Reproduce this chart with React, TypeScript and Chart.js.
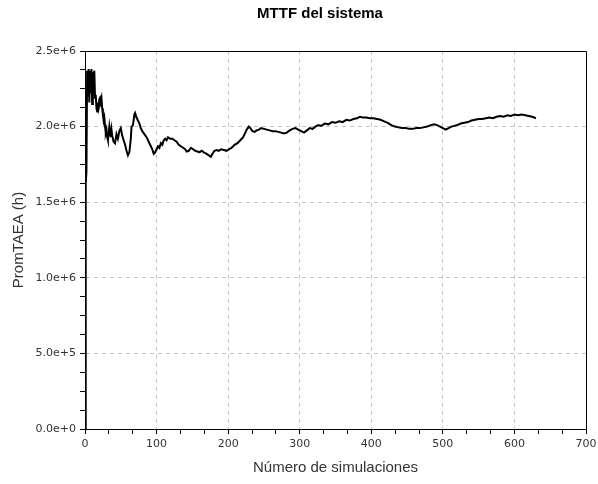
import React, { useEffect, useRef } from "react";
import { Chart, registerables } from "chart.js";

Chart.register(...registerables);

const chartTitle = "MTTF del sistema";
const xAxisTitle = "Número de simulaciones";
const yAxisTitle = "PromTAEA (h)";

const xTickLabels = ["0", "100", "200", "300", "400", "500", "600", "700"];
const yTickLabels = ["0.0e+0", "5.0e+5", "1.0e+6", "1.5e+6", "2.0e+6", "2.5e+6"];

const simulations = [
  0, 1, 2, 3, 4, 5, 6, 7, 8, 9, 10, 11, 12, 13, 14, 15, 16, 17, 18, 19,
  20, 21, 22, 23, 24, 25, 26, 27, 28, 29, 30, 31, 32, 33, 34, 35, 36, 37, 38, 40,
  42, 44, 46, 48, 50, 52, 54, 56, 58, 60, 62, 64, 65, 67, 69, 70, 72, 74, 76, 78,
  80, 83, 86, 89, 92, 94, 96, 98, 100, 102, 104, 106, 108, 110, 112, 114, 116, 119, 122, 125,
  128, 131, 134, 137, 140, 142, 145, 148, 151, 154, 157, 160, 163, 166, 170, 173, 176, 178, 181, 184,
  187, 190, 194, 198, 201, 205, 209, 213, 217, 221, 224, 226, 229, 231, 234, 237, 240, 243, 246, 250,
  254, 258, 262, 266, 270, 274, 278, 282, 286, 290, 294, 298, 302, 306, 310, 314, 318, 322, 326, 330,
  335, 340, 345, 350, 355, 360, 365, 370, 375, 380, 384, 388, 393, 398, 403, 408, 413, 418, 423, 428,
  433, 438, 443, 448, 453, 458, 463, 468, 473, 478, 483, 488, 492, 496, 500, 504, 508, 512, 516, 520,
  525, 530, 535, 540, 545, 550, 555, 560, 565, 570, 575, 580, 585, 590, 595, 600, 605, 610, 615, 620,
  625, 630,
];

const promTAEA = [
  0, 1.62e6, 1.70e6, 2.37e6, 2.20e6, 2.38e6, 2.16e6, 2.37e6, 2.22e6, 2.38e6, 2.15e6, 2.36e6, 2.25e6, 2.37e6, 2.19e6, 2.21e6, 2.12e6, 2.10e6, 2.16e6, 2.13e6,
  2.18e6, 2.19e6, 2.17e6, 2.19e6, 2.12e6, 2.08e6, 2.04e6, 2.06e6, 2.00e6, 1.96e6, 1.98e6, 1.93e6, 1.91e6, 1.95e6, 2.00e6, 1.96e6, 1.93e6, 1.98e6, 1.94e6, 1.90e6,
  1.89e6, 1.95e6, 1.92e6, 1.97e6, 1.99e6, 1.94e6, 1.91e6, 1.88e6, 1.84e6, 1.81e6, 1.83e6, 1.92e6, 2.00e6, 2.01e6, 2.08e6, 2.09e6, 2.06e6, 2.04e6, 2.02e6, 1.99e6,
  1.97e6, 1.95e6, 1.93e6, 1.90e6, 1.87e6, 1.85e6, 1.82e6, 1.83e6, 1.85e6, 1.87e6, 1.86e6, 1.89e6, 1.88e6, 1.91e6, 1.92e6, 1.91e6, 1.93e6, 1.92e6, 1.92e6, 1.91e6,
  1.90e6, 1.88e6, 1.87e6, 1.86e6, 1.85e6, 1.835e6, 1.84e6, 1.86e6, 1.85e6, 1.84e6, 1.835e6, 1.83e6, 1.84e6, 1.83e6, 1.82e6, 1.81e6, 1.80e6, 1.82e6, 1.84e6, 1.845e6,
  1.84e6, 1.85e6, 1.845e6, 1.84e6, 1.85e6, 1.86e6, 1.88e6, 1.89e6, 1.91e6, 1.93e6, 1.96e6, 1.98e6, 2.00e6, 1.99e6, 1.97e6, 1.965e6, 1.975e6, 1.98e6, 1.99e6, 1.985e6,
  1.98e6, 1.975e6, 1.97e6, 1.97e6, 1.965e6, 1.96e6, 1.955e6, 1.96e6, 1.975e6, 1.985e6, 1.99e6, 1.98e6, 1.97e6, 1.96e6, 1.975e6, 1.99e6, 1.985e6, 2.00e6, 2.01e6, 2.005e6,
  2.02e6, 2.015e6, 2.03e6, 2.025e6, 2.035e6, 2.03e6, 2.045e6, 2.04e6, 2.05e6, 2.055e6, 2.065e6, 2.06e6, 2.06e6, 2.055e6, 2.055e6, 2.05e6, 2.045e6, 2.035e6, 2.025e6, 2.01e6,
  2.00e6, 1.995e6, 1.99e6, 1.99e6, 1.985e6, 1.985e6, 1.99e6, 1.99e6, 1.995e6, 2.00e6, 2.01e6, 2.015e6, 2.01e6, 2.00e6, 1.99e6, 1.98e6, 1.99e6, 2.00e6, 2.005e6, 2.01e6,
  2.02e6, 2.025e6, 2.03e6, 2.04e6, 2.045e6, 2.05e6, 2.05e6, 2.055e6, 2.06e6, 2.055e6, 2.065e6, 2.07e6, 2.065e6, 2.075e6, 2.07e6, 2.08e6, 2.075e6, 2.08e6, 2.075e6, 2.07e6,
  2.065e6, 2.055e6,
];

const X_MAX = 700;
const X_MAJOR = 100;
const Y_MAX = 2.5e6;
const Y_MAJOR = 5e5;

const isMajor = (v: number, step: number) => Math.abs(v / step - Math.round(v / step)) < 1e-6;

const framePlugin = {
  id: "frame",
  afterLayout(chart: any) {
    const tb = chart.titleBlock;
    if (tb) {
      tb.left = 54;
      tb.right = 586;
      tb.width = 532;
    }
  },
  afterDatasetsDraw(chart: any) {
    const { ctx, chartArea } = chart;
    const l = Math.round(chartArea.left) + 0.5;
    const t = Math.round(chartArea.top) + 0.5;
    const r = Math.round(chartArea.right) + 0.5;
    const b = Math.round(chartArea.bottom) + 0.5;
    ctx.save();
    ctx.strokeStyle = "#000";
    ctx.lineWidth = 1;
    ctx.beginPath();
    ctx.moveTo(l, t);
    ctx.lineTo(r, t);
    ctx.lineTo(r, b);
    ctx.stroke();
    ctx.restore();
  },
};

export default function App() {
  const ref = useRef<HTMLCanvasElement | null>(null);

  useEffect(() => {
    if (!ref.current) return;
    const points = simulations.map((x, i) => ({ x, y: promTAEA[i] }));
    const chart = new Chart(ref.current, {
      type: "line",
      data: {
        datasets: [
          {
            data: points,
            borderColor: "#000",
            borderWidth: 2,
            pointRadius: 0,
            tension: 0,
            fill: false,
          },
        ],
      },
      options: {
        responsive: false,
        animation: false,
        layout: { padding: { left: 0, right: 12, top: 0, bottom: 0 } },
        plugins: {
          legend: { display: false },
          tooltip: { enabled: false },
          title: {
            display: true,
            text: chartTitle,
            color: "#000",
            font: { family: "'Liberation Sans', Arial, sans-serif", size: 15, weight: "bold" },
            padding: { top: 5, bottom: 28 },
          },
        },
        scales: {
          x: {
            type: "linear",
            min: 0,
            max: X_MAX,
            afterFit: (s: any) => {
              s.height = 55;
              s.paddingLeft = 0;
              s.paddingRight = 0;
            },
            ticks: {
              stepSize: X_MAJOR / 3,
              autoSkip: false,
              maxRotation: 0,
              padding: 4,
              color: "#333",
              font: { family: "'DejaVu Sans', sans-serif", size: 11 },
              callback: (v: any) => {
                const n = Number(v);
                return isMajor(n, X_MAJOR) ? xTickLabels[Math.round(n / X_MAJOR)] : "";
              },
            },
            grid: {
              color: (c: any) => {
                const v = c.tick ? c.tick.value : NaN;
                return isMajor(v, X_MAJOR) && v > 0 && v < X_MAX ? "#c4c4c4" : "rgba(0,0,0,0)";
              },
              tickColor: "#000",
              tickLength: 5,
              lineWidth: 1,
            },
            border: { display: true, color: "#000", width: 1, dash: [4, 4] },
            title: {
              display: true,
              text: xAxisTitle,
              color: "#333",
              font: { family: "'Liberation Sans', Arial, sans-serif", size: 15 },
              padding: { top: 0, bottom: 7 },
            },
          },
          y: {
            type: "linear",
            min: 0,
            max: Y_MAX,
            afterFit: (s: any) => {
              s.width = 85;
              s.paddingTop = 0;
              s.paddingBottom = 0;
            },
            ticks: {
              stepSize: Y_MAJOR / 4,
              autoSkip: false,
              padding: 4,
              color: "#333",
              font: { family: "'DejaVu Sans', sans-serif", size: 11 },
              callback: (v: any) => {
                const n = Number(v);
                return isMajor(n, Y_MAJOR) ? yTickLabels[Math.round(n / Y_MAJOR)] : "";
              },
            },
            grid: {
              color: (c: any) => {
                const v = c.tick ? c.tick.value : NaN;
                return isMajor(v, Y_MAJOR) && v > 0 && v < Y_MAX ? "#c4c4c4" : "rgba(0,0,0,0)";
              },
              tickColor: "#000",
              tickLength: 5,
              lineWidth: 1,
            },
            border: { display: true, color: "#000", width: 1, dash: [4, 4] },
            title: {
              display: true,
              text: yAxisTitle,
              color: "#333",
              font: { family: "'Liberation Sans', Arial, sans-serif", size: 15 },
              padding: { top: 10, bottom: 0 },
            },
          },
        },
      },
      plugins: [framePlugin],
    } as any);
    return () => chart.destroy();
  }, []);

  return (
    <canvas
      ref={ref}
      width={598}
      height={484}
      style={{ position: "absolute", left: 0, top: 0, width: 598, height: 484, display: "block", background: "#fff" }}
    />
  );
}
